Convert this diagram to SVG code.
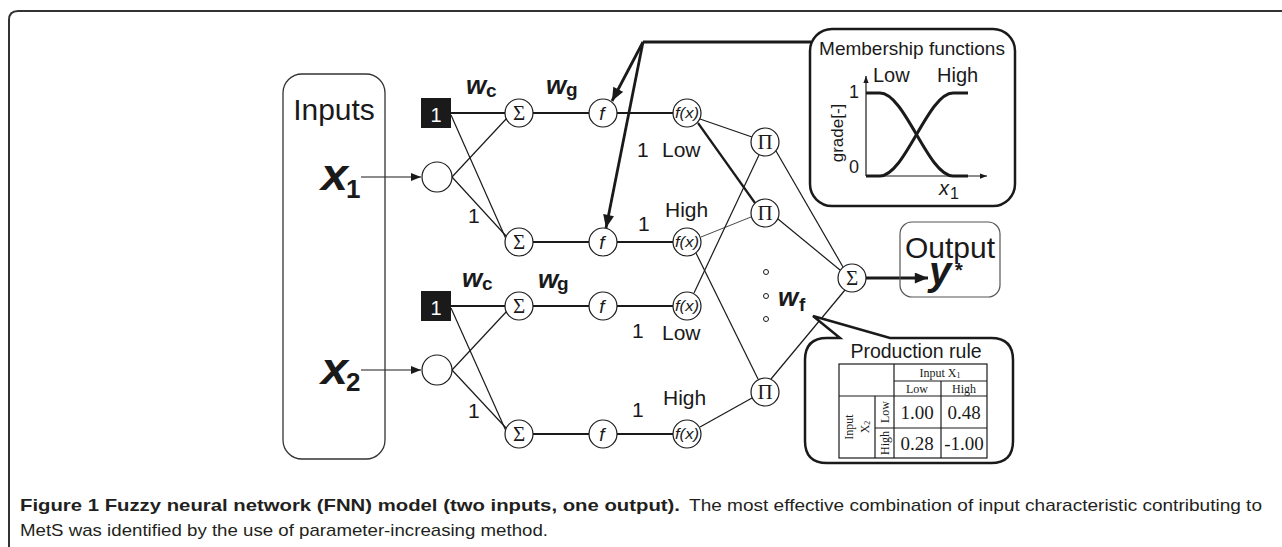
<svg xmlns="http://www.w3.org/2000/svg" width="1282" height="547" viewBox="0 0 1282 547">
<defs>
<style>
.ln{stroke:#1a1a1a;stroke-width:1.2;fill:none}
.th{stroke:#1a1a1a;stroke-width:2;fill:none}
.bold{stroke:#1a1a1a;stroke-width:2.8;fill:none}
.nd{fill:#fff;stroke:#1a1a1a;stroke-width:1.2}
.sans{font-family:'Liberation Sans',Arial,sans-serif;fill:#1a1a1a}
.sym{font-family:'Liberation Serif','Times New Roman',serif;font-size:21px;text-anchor:middle;fill:#1a1a1a}
.fi{font-family:'Liberation Sans',Arial,sans-serif;font-style:italic;text-anchor:middle;fill:#1a1a1a}
.w{font-family:'Liberation Sans',Arial,sans-serif;font-weight:bold;font-style:italic;font-size:26px;fill:#1a1a1a}
.ws{font-family:'Liberation Sans',Arial,sans-serif;font-weight:bold;font-size:19px;fill:#1a1a1a}
.lab{font-family:'Liberation Sans',Arial,sans-serif;font-size:21px;fill:#1a1a1a}
.tb{font-family:'Liberation Serif','Times New Roman',serif;fill:#1a1a1a;text-anchor:middle}
.cap{font-family:'Liberation Sans',Arial,sans-serif;font-size:17px;fill:#231f20}
</style>
<marker id="ah" viewBox="0 0 10 8" refX="10" refY="4" markerWidth="10" markerHeight="8" markerUnits="userSpaceOnUse" orient="auto"><path d="M0,0 L10,4 L0,8 z" fill="#1a1a1a"/></marker>
<marker id="ahb" viewBox="0 0 12 10" refX="12" refY="5" markerWidth="14" markerHeight="11" markerUnits="userSpaceOnUse" orient="auto"><path d="M0,0 L12,5 L0,10 z" fill="#1a1a1a"/></marker>
<marker id="ahs" viewBox="0 0 8 6" refX="8" refY="3" markerWidth="7" markerHeight="6" markerUnits="userSpaceOnUse" orient="auto"><path d="M0,0 L8,3 L0,6 z" fill="#1a1a1a"/></marker>
</defs>

<!-- outer frame -->
<path d="M9,547 L9,20 Q9,11 18,11 L1282,11" fill="none" stroke="#333" stroke-width="2"/>

<!-- connectors -->
<g id="connectors">
  <line class="ln" x1="361" y1="177" x2="421" y2="177" marker-end="url(#ah)"/>
  <line class="ln" x1="361" y1="370" x2="421" y2="370" marker-end="url(#ah)"/>
  <line class="th" x1="451" y1="113" x2="505" y2="113"/>
  <line class="ln" x1="451" y1="115" x2="506" y2="239"/>
  <line class="ln" x1="452" y1="177" x2="507" y2="118"/>
  <line class="ln" x1="452" y1="177" x2="507" y2="237"/>
  <line class="th" x1="451" y1="306" x2="505" y2="306"/>
  <line class="ln" x1="451" y1="308" x2="506" y2="431"/>
  <line class="ln" x1="452" y1="370" x2="507" y2="311"/>
  <line class="ln" x1="452" y1="370" x2="507" y2="429"/>
  <line class="th" x1="533" y1="113" x2="589" y2="113"/>
  <line class="th" x1="617" y1="113" x2="673" y2="113"/>
  <line class="th" x1="533" y1="242" x2="589" y2="242"/>
  <line class="th" x1="617" y1="242" x2="673" y2="242"/>
  <line class="th" x1="533" y1="306" x2="589" y2="306"/>
  <line class="th" x1="617" y1="306" x2="673" y2="306"/>
  <line class="th" x1="533" y1="434" x2="589" y2="434"/>
  <line class="th" x1="617" y1="434" x2="673" y2="434"/>
  <line class="ln" x1="700" y1="119" x2="752" y2="137"/>
  <line class="bold" x1="698" y1="123" x2="755" y2="203" style="stroke-width:2.2"/>
  <line x1="701" y1="237" x2="751" y2="217" stroke="#1a1a1a" stroke-width="0.8"/>
  <line class="ln" x1="696" y1="253" x2="758" y2="379"/>
  <line class="ln" x1="694" y1="293" x2="759" y2="155"/>
  <line class="ln" x1="700" y1="427" x2="752" y2="398"/>
  <line class="ln" x1="776" y1="151" x2="843" y2="267"/>
  <line class="ln" x1="778" y1="219" x2="840" y2="270"/>
  <line class="ln" x1="771" y1="379" x2="845" y2="290"/>
  <line class="bold" x1="866" y1="278" x2="928" y2="278" marker-end="url(#ahb)"/>
  <path class="bold" d="M811,42 L643,42"/>
  <line class="bold" x1="643" y1="42" x2="612" y2="101" marker-end="url(#ahb)"/>
  <line class="bold" x1="643" y1="42" x2="606" y2="228" marker-end="url(#ahb)"/>
</g>

<g id="inputs">
  <rect x="283" y="74" width="102" height="385" rx="19" fill="none" stroke="#333" stroke-width="1.3"/>
  <text class="sans" x="334" y="120" font-size="30" text-anchor="middle">Inputs</text>
  <text class="sans" x="321" y="190" font-size="44" font-weight="bold" font-style="italic" textLength="27" lengthAdjust="spacingAndGlyphs">x</text>
  <text class="sans" x="346" y="198" font-size="26" font-weight="bold">1</text>
  <text class="sans" x="321" y="384" font-size="44" font-weight="bold" font-style="italic" textLength="27" lengthAdjust="spacingAndGlyphs">x</text>
  <text class="sans" x="346" y="391" font-size="26" font-weight="bold">2</text>
</g>

<g id="in1"><circle class="nd" cx="437" cy="177" r="15"/></g>
<g id="in2"><circle class="nd" cx="437" cy="370" r="15"/></g>
<g id="bias1"><rect x="421" y="98" width="30" height="30" fill="#1a1a1a"/><text class="sans" x="436" y="122" font-size="20" style="fill:#fff" text-anchor="middle">1</text></g>
<g id="bias2"><rect x="421" y="291" width="30" height="30" fill="#1a1a1a"/><text class="sans" x="436" y="315" font-size="20" style="fill:#fff" text-anchor="middle">1</text></g>

<g id="s1"><circle class="nd" cx="519" cy="113" r="14"/><text class="sym" x="519" y="120">Σ</text></g>
<g id="s2"><circle class="nd" cx="519" cy="242" r="14"/><text class="sym" x="519" y="249">Σ</text></g>
<g id="s3"><circle class="nd" cx="519" cy="306" r="14"/><text class="sym" x="519" y="313">Σ</text></g>
<g id="s4"><circle class="nd" cx="519" cy="434" r="14"/><text class="sym" x="519" y="441">Σ</text></g>

<g id="f1"><circle class="nd" cx="603" cy="113" r="14"/><text class="fi" x="602" y="120" font-size="19">f</text></g>
<g id="f2"><circle class="nd" cx="603" cy="242" r="14"/><text class="fi" x="602" y="249" font-size="19">f</text></g>
<g id="f3"><circle class="nd" cx="603" cy="306" r="14"/><text class="fi" x="602" y="313" font-size="19">f</text></g>
<g id="f4"><circle class="nd" cx="603" cy="434" r="14"/><text class="fi" x="602" y="441" font-size="19">f</text></g>

<g id="fx1"><circle class="nd" cx="687" cy="113" r="14"/><text class="fi" x="687" y="118" font-size="14" textLength="24" lengthAdjust="spacingAndGlyphs">f(x)</text></g>
<g id="fx2"><circle class="nd" cx="687" cy="242" r="14"/><text class="fi" x="687" y="247" font-size="14" textLength="24" lengthAdjust="spacingAndGlyphs">f(x)</text></g>
<g id="fx3"><circle class="nd" cx="687" cy="306" r="14"/><text class="fi" x="687" y="311" font-size="14" textLength="24" lengthAdjust="spacingAndGlyphs">f(x)</text></g>
<g id="fx4"><circle class="nd" cx="687" cy="434" r="14"/><text class="fi" x="687" y="439" font-size="14" textLength="24" lengthAdjust="spacingAndGlyphs">f(x)</text></g>

<g id="p1"><circle class="nd" cx="765" cy="142" r="14"/><text class="sym" x="765" y="149">Π</text></g>
<g id="p2"><circle class="nd" cx="765" cy="213" r="14"/><text class="sym" x="765" y="220">Π</text></g>
<g id="p3"><circle class="nd" cx="765" cy="392" r="14"/><text class="sym" x="765" y="399">Π</text></g>
<g id="dots" fill="#fff" stroke="#1a1a1a" stroke-width="1">
  <circle cx="766" cy="272" r="2.5"/><circle cx="766" cy="296" r="2.5"/><circle cx="766" cy="319" r="2.5"/>
</g>

<g id="sout"><circle class="nd" cx="852" cy="278" r="14"/><text class="sym" x="852" y="285">Σ</text></g>

<g id="labels">
  <text class="w" x="466" y="94">w</text><text class="ws" x="486" y="97">c</text>
  <text class="w" x="546" y="94">w</text><text class="ws" x="566" y="96">g</text>
  <text class="w" x="462" y="287">w</text><text class="ws" x="482" y="290">c</text>
  <text class="w" x="538" y="288">w</text><text class="ws" x="557" y="290">g</text>
  <text class="w" x="778" y="306">w</text><text class="ws" x="799" y="311">f</text>
  <text class="lab" x="468" y="223">1</text>
  <text class="lab" x="468" y="418">1</text>
  <text class="lab" x="637" y="157">1</text><text class="lab" x="662" y="157">Low</text>
  <text class="lab" x="665" y="217">High</text><text class="lab" x="638" y="231">1</text>
  <text class="lab" x="632" y="338">1</text><text class="lab" x="662" y="340">Low</text>
  <text class="lab" x="663" y="405">High</text><text class="lab" x="632" y="417">1</text>
</g>

<g id="output">
  <rect x="900" y="222" width="100" height="75" rx="12" fill="none" stroke="#555" stroke-width="1.2"/>
  <text class="sans" x="905" y="258" font-size="30">Output</text>
  <text class="sans" x="929" y="285" font-size="40" font-weight="bold" font-style="italic">y</text>
  <text class="sans" x="955" y="277" font-size="20" font-weight="bold">*</text>
</g>

<g id="membership">
  <rect x="810" y="29" width="205" height="177" rx="22" fill="#fff" stroke="#1a1a1a" stroke-width="2.5"/>
  <text class="sans" x="912" y="55" font-size="19" text-anchor="middle">Membership functions</text>
  <line class="ln" x1="866" y1="176" x2="866" y2="76" marker-end="url(#ahs)"/>
  <line class="ln" x1="866" y1="176" x2="987" y2="176" marker-end="url(#ahs)"/>
  <path d="M866,93 H880 C905,93 928,176 953,176 H968" fill="none" stroke="#1a1a1a" stroke-width="3"/>
  <path d="M866,176 H880 C905,176 928,93 953,93 H968" fill="none" stroke="#1a1a1a" stroke-width="3"/>
  <text class="sans" x="873" y="82" font-size="20">Low</text>
  <text class="sans" x="937" y="82" font-size="20">High</text>
  <text class="sans" x="849" y="98" font-size="18">1</text>
  <text class="sans" x="849" y="173" font-size="18">0</text>
  <text class="sans" x="843" y="133" font-size="17" text-anchor="middle" transform="rotate(-90 843 133)">grade[-]</text>
  <text class="sans" x="939" y="195" font-size="20" font-style="italic">x</text>
  <text class="sans" x="950" y="199" font-size="16">1</text>
</g>

<g id="production">
  <path d="M840,338 L827,338 Q805,338 805,360 L805,441 Q805,463 827,463 L991,463 Q1013,463 1013,441 L1013,360 Q1013,338 991,338 L890,338 L813,316 Z" fill="#fff" stroke="#1a1a1a" stroke-width="2.5" stroke-linejoin="miter"/>
  <text class="sans" x="916" y="358" font-size="19.5" text-anchor="middle">Production rule</text>
  <g stroke="#1a1a1a" stroke-width="1.2" fill="none">
    <rect x="839" y="364" width="148" height="94"/>
    <line x1="894" y1="364" x2="894" y2="458"/>
    <line x1="941" y1="381" x2="941" y2="458"/>
    <line x1="875" y1="396" x2="875" y2="458"/>
    <line x1="894" y1="381" x2="987" y2="381"/>
    <line x1="839" y1="396" x2="987" y2="396"/>
    <line x1="875" y1="428" x2="987" y2="428"/>
  </g>
  <text class="tb" x="940" y="377" font-size="12">Input X<tspan font-size="8" dy="1">1</tspan></text>
  <text class="tb" x="917" y="393" font-size="12">Low</text>
  <text class="tb" x="964" y="393" font-size="12">High</text>
  <text class="tb" x="917" y="419" font-size="19">1.00</text>
  <text class="tb" x="964" y="419" font-size="19">0.48</text>
  <text class="tb" x="917" y="450" font-size="19">0.28</text>
  <text class="tb" x="964" y="450" font-size="19">-1.00</text>
  <text class="tb" x="0" y="0" font-size="12" transform="translate(853 427) rotate(-90)">Input</text>
  <text class="tb" x="0" y="0" font-size="12" transform="translate(869 427) rotate(-90)">X<tspan font-size="8" dy="1">2</tspan></text>
  <text class="tb" x="0" y="0" font-size="12" transform="translate(889 412) rotate(-90)">Low</text>
  <text class="tb" x="0" y="0" font-size="12" transform="translate(889 443) rotate(-90)">High</text>
</g>

<g id="caption">
  <text class="cap" x="20" y="511"><tspan font-weight="bold" textLength="660" lengthAdjust="spacingAndGlyphs">Figure 1 Fuzzy neural network (FNN) model (two inputs, one output).</tspan><tspan x="689" textLength="573" lengthAdjust="spacingAndGlyphs">The most effective combination of input characteristic contributing to</tspan></text>
  <text class="cap" x="20" y="536" textLength="528" lengthAdjust="spacingAndGlyphs">MetS was identified by the use of parameter-increasing method.</text>
</g>
</svg>
